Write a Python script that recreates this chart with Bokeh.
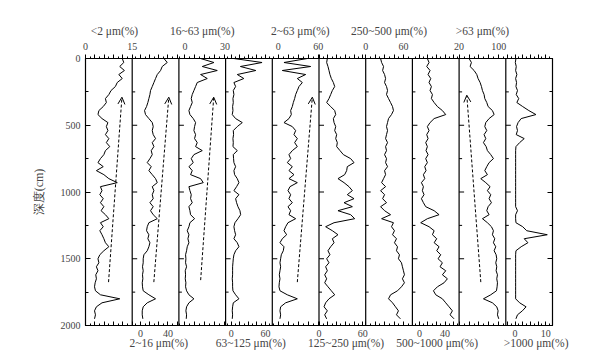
from bokeh.plotting import figure
from bokeh.models import (Range1d, LinearAxis, FixedTicker, CustomJSTickFormatter,
                          Span, Arrow, OpenHead)
from bokeh.embed import file_html
from bokeh.resources import INLINE

# ---------------- data ----------------
depth = [0, 30, 60, 90, 120, 150, 180, 210, 240, 270,
         300, 330, 360, 390, 420, 450, 480, 510, 540, 570,
         600, 630, 660, 690, 720, 750, 780, 810, 840, 870,
         900, 930, 960, 990, 1020, 1050, 1080, 1110, 1140, 1170,
         1200, 1230, 1260, 1290, 1320, 1350, 1380, 1410, 1440, 1470,
         1500, 1530, 1560, 1590, 1620, 1650, 1680, 1710, 1740, 1770,
         1800, 1830, 1860, 1890, 1920, 1950]

clay = [11.8, 12.3, 11.0, 12.5, 10.7, 11.8, 10.2, 9.6, 8.2, 7.5,
        6.4, 6.7, 5.7, 4.3, 4.0, 5.3, 7.2, 6.7, 7.2, 6.4,
        7.5, 6.7, 7.8, 6.4, 5.9, 4.8, 4.0, 5.7, 3.5, 5.9,
        7.5, 10.2, 4.8, 5.3, 4.6, 5.7, 4.8, 5.9, 5.0, 6.4,
        7.5, 4.8, 5.7, 4.6, 5.3, 5.9, 6.4, 7.5, 5.9, 4.6,
        4.0, 4.3, 3.5, 4.0, 3.3, 3.5, 3.1, 2.9, 3.2, 4.8,
        11.0, 5.3, 3.5, 2.9, 3.2, 2.9]

fine_silt = [34.2, 39.0, 31.7, 29.3, 24.5, 22.0, 19.6, 17.2, 14.7, 13.8,
             12.3, 10.8, 8.9, 6.0, 7.4, 12.3, 17.2, 18.6, 17.2, 18.6,
             22.0, 17.2, 19.6, 15.7, 17.2, 13.8, 9.9, 15.7, 12.3, 17.2,
             22.0, 24.5, 17.2, 19.6, 17.2, 18.6, 13.8, 18.6, 14.7, 18.6,
             24.5, 12.3, 9.9, 8.9, 12.3, 10.8, 13.8, 12.3, 9.9, 5.0,
             4.0, 4.0, 3.0, 4.0, 3.0, 3.5, 2.6, 3.0, 4.0, 12.3,
             22.0, 9.9, 4.0, 2.6, 2.6, 3.5]

coarse_silt = [11.75, 21.75, 13.0, 24.25, 11.75, 16.75, 9.25, 8.0, 6.75, 5.5,
               4.75, 5.5, 4.25, 3.0, 3.75, 6.25, 8.0, 7.25, 6.75, 8.0,
               7.25, 9.25, 8.0, 13.0, 6.75, 4.75, 6.25, 3.0, 5.5, 4.25,
               11.75, 13.75, 3.0, 3.75, 4.75, 4.25, 5.5, 3.0, 3.75, 4.25,
               7.25, 3.75, 3.0, 1.75, 3.0, 2.25, 3.0, 1.75, 1.25, 0.5,
               0.75, 0.5, 1.25, 0.25, 0.5, 0.25, 0.75, 0.5, 1.25, 3.0,
               6.75, 3.0, 1.25, 0.75, 1.25, 1.0]

vf_sand = [4.6, 54.0, 16.0, 43.0, 10.5, 22.0, 4.6, 7.6, 3.5, 4.6,
           2.9, 3.5, 2.3, 2.9, 1.7, 7.6, 19.3, 10.5, 3.5, 4.0,
           2.9, 3.5, 2.9, 10.5, 3.5, 4.0, 4.6, 7.6, 4.6, 5.8,
           10.5, 13.4, 9.3, 4.6, 13.4, 7.6, 9.3, 11.7, 15.2, 16.4,
           11.7, 6.4, 4.6, 5.8, 7.6, 4.6, 10.5, 13.4, 7.6, 4.6,
           3.5, 2.9, 2.3, 2.3, 2.3, 1.7, 2.3, 2.3, 2.9, 7.6,
           13.4, 3.5, 2.3, 1.7, 2.3, 1.7]

mud = [43.5, 8.5, 48.5, 6.0, 41.0, 28.5, 36.0, 31.0, 28.5, 26.0,
       24.5, 22.5, 21.0, 18.5, 19.5, 16.0, 8.5, 21.0, 26.0, 23.5,
       28.5, 24.5, 28.5, 21.0, 16.0, 18.5, 13.5, 21.0, 16.0, 23.5,
       16.0, 28.5, 17.5, 14.5, 18.5, 16.0, 21.0, 14.5, 18.5, 16.0,
       26.0, 14.5, 11.0, 8.5, 12.5, 6.0, 2.5, 8.5, 7.5, 4.5,
       3.5, 2.5, 3.5, 2.5, 1.5, 2.5, 1.5, 1.0, 2.5, 13.5,
       28.5, 11.0, 3.5, 2.5, 3.5, 2.5]

f_sand = [11.4, 10.5, 12.3, 13.7, 15.0, 16.9, 19.7, 21.5, 18.3, 16.0,
          13.7, 10.5, 16.0, 21.5, 22.9, 19.7, 20.6, 22.9, 21.5, 24.2,
          22.9, 25.1, 24.2, 28.8, 33.4, 43.4, 48.0, 38.8, 37.9, 35.2,
          26.0, 34.3, 41.1, 45.7, 38.8, 48.0, 34.3, 45.7, 26.0, 43.4,
          48.9, 20.6, 9.1, 18.3, 26.0, 18.3, 20.6, 16.0, 12.3, 15.0,
          10.5, 13.7, 9.1, 11.4, 7.8, 10.5, 7.8, 12.3, 16.9, 21.5,
          13.7, 9.1, 6.9, 11.4, 7.8, 10.5]

m_sand = [23.6, 25.2, 28.3, 26.8, 29.9, 31.5, 29.9, 33.0, 34.6, 33.0,
          36.2, 39.4, 42.5, 44.0, 40.9, 36.2, 34.6, 33.0, 34.6, 33.0,
          31.5, 34.6, 31.5, 33.0, 29.9, 33.0, 31.5, 34.6, 29.9, 31.5,
          28.3, 25.2, 31.5, 23.6, 29.9, 26.8, 33.0, 23.6, 29.9, 39.4,
          25.2, 44.0, 40.9, 45.6, 42.5, 48.8, 45.6, 50.4, 48.8, 53.5,
          51.9, 56.7, 58.2, 59.8, 61.4, 58.2, 61.4, 56.7, 50.4, 39.4,
          36.2, 42.5, 47.2, 51.9, 48.8, 55.0]

c_sand = [12.4, 15.0, 11.4, 16.6, 13.5, 17.7, 15.0, 18.7, 16.6, 20.3,
          18.7, 23.0, 28.1, 35.9, 41.1, 23.0, 16.6, 12.4, 15.0, 11.4,
          13.5, 9.8, 12.4, 10.3, 13.5, 9.8, 12.4, 8.3, 10.3, 6.2,
          8.3, 3.1, 6.2, 4.6, 7.2, 3.1, 6.2, 9.8, 23.0, 30.7,
          12.4, 2.0, 15.0, 23.0, 20.3, 27.0, 23.0, 30.7, 27.0, 33.3,
          29.1, 35.9, 32.2, 41.1, 35.9, 43.7, 38.5, 28.1, 21.9, 25.5,
          35.9, 41.1, 46.3, 51.5, 47.9, 54.1]

sand = [40.1, 44.8, 42.1, 50.2, 55.6, 58.2, 62.3, 65.0, 67.0, 70.3,
        71.7, 75.7, 78.4, 87.1, 90.5, 80.4, 73.7, 71.7, 75.7, 70.3,
        73.7, 69.0, 74.4, 77.0, 83.7, 89.1, 80.4, 75.7, 71.7, 77.0,
        63.6, 73.7, 82.4, 77.0, 83.7, 80.4, 85.1, 78.4, 75.7, 80.4,
        67.0, 77.0, 85.1, 89.1, 87.1, 91.8, 89.1, 93.8, 90.5, 94.5,
        95.8, 93.8, 95.8, 94.5, 97.2, 95.8, 97.2, 96.5, 95.2, 83.7,
        69.0, 87.1, 95.8, 98.5, 97.2, 99.8]

gravel = [0.3, 0.1, 0.4, 0.2, 0.6, 0.2, 0.5, 0.3, 0.8, 0.4,
          1.2, 0.6, 2.5, 4.5, 6.8, 2.0, 1.0, 0.5, 0.8, 0.4,
          3.0, 1.5, 0.3, 0.2, 0.2, 0.2, 0.2, 0.2, 0.2, 0.2,
          0.2, 0.2, 0.2, 0.2, 0.2, 0.2, 0.2, 0.2, 0.8, 0.2,
          0.2, 0.3, 2.5, 3.8, 10.5, 3.0, 4.2, 2.0, 0.3, 0.2,
          0.2, 0.2, 0.2, 0.2, 0.2, 0.2, 0.2, 0.2, 0.2, 0.2,
          0.2, 1.5, 3.6, 2.4, 0.8, 0.3]

titles = ["<2 μm(%)", "2~16 μm(%)", "16~63 μm(%)", "63~125 μm(%)", "2~63 μm(%)",
          "125~250 μm(%)", "250~500 μm(%)", "500~1000 μm(%)", ">63 μm(%)", ">1000 μm(%)"]
x_lo = [0, -12, -4.5, -10, -9, 0, 0, -11, 20, -3]
x_hi = [15, 56, 30.5, 72, 61, 64, 74, 62, 114, 12.2]
tick_step = [3, 40 / 3, 7.5, 15, 15, 12, 15, 40 / 3, 20, 2.5]
tick_labels = [[0, 15], [0, 40], [0, 30], [0, 60], [0, 60],
               [0, 60], [0, 60], [0, 40], [20, 100], [0, 10]]
label_top = [True, False, True, False, True, False, True, False, True, False]
title_center = [0.62, 1.57, 2.5, 3.54, 4.6, 5.58, 6.5, 7.53, 8.5, 9.65]

arrow_panel = [0, 1, 2, 4, 8]
arrow_x0 = [7.4, 19.5, 11.8, 28.5, 63.7]
arrow_y0 = [1675, 1675, 1660, 1675, 1675]
arrow_x1 = [11.7, 41.3, 21.6, 51.0, 35.5]
arrow_y1 = [290, 290, 290, 290, 275]

depth_major = [0, 500, 1000, 1500, 2000]
depth_minor = [250, 750, 1250, 1750]

series = [clay, fine_silt, coarse_silt, vf_sand, mud, f_sand, m_sand, c_sand, sand, gravel]
NP = len(series)

SERIF = "Liberation Serif"
FRAME_W = 467

p = figure(width=594, height=358, x_range=Range1d(0, NP), y_range=Range1d(2000, 0),
           output_backend="svg", toolbar_location=None,
           min_border_left=85, min_border_right=42, min_border_top=58, min_border_bottom=33)
p.grid.visible = False
p.outline_line_color = "black"
p.outline_line_width = 1.2
p.background_fill_color = "white"
p.border_fill_color = "white"


def gpos(i, v):
    return round(i + (v - x_lo[i]) / (x_hi[i] - x_lo[i]), 6)


major_pos, minor_pos = [], []
top_pos, top_txt, bot_pos, bot_txt = [], [], [], []
ttl_top_pos, ttl_top_txt, ttl_bot_pos, ttl_bot_txt = [], [], [], []
for i in range(NP):
    s = tick_step[i]
    k0 = int(x_lo[i] // s) - 1
    k1 = int(x_hi[i] // s) + 2
    for k in range(k0, k1):
        v = k * s
        if x_lo[i] - 1e-9 <= v <= x_hi[i] + 1e-9:
            major_pos.append(gpos(i, v))
        vm = v + s / 2
        if x_lo[i] - 1e-9 <= vm <= x_hi[i] + 1e-9:
            minor_pos.append(gpos(i, vm))
    for v in tick_labels[i]:
        if label_top[i]:
            top_pos.append(gpos(i, v)); top_txt.append(str(v))
        else:
            bot_pos.append(gpos(i, v)); bot_txt.append(str(v))
    if label_top[i]:
        ttl_top_pos.append(title_center[i]); ttl_top_txt.append(titles[i])
    else:
        ttl_bot_pos.append(title_center[i]); ttl_bot_txt.append(titles[i])

fmt_code = """
for (let i = 0; i < pos.length; i++) {
  if (Math.abs(tick - pos[i]) < 1e-4) { return labs[i]; }
}
return '';
"""


def style_numbers(ax, top):
    ax.major_tick_in = 0 if top else 4
    ax.major_tick_out = 4 if top else 0
    ax.minor_tick_in = 0 if top else 2
    ax.minor_tick_out = 2 if top else 0
    ax.major_label_standoff = 5 if top else 4
    ax.major_label_text_font = SERIF
    ax.major_label_text_font_size = "10px"
    ax.axis_line_color = "black"


def title_axis(pos, txt, standoff):
    ax = LinearAxis(ticker=FixedTicker(ticks=pos, minor_ticks=[]),
                    formatter=CustomJSTickFormatter(args=dict(pos=pos, labs=txt), code=fmt_code))
    ax.major_tick_in = 0
    ax.major_tick_out = 0
    ax.minor_tick_in = 0
    ax.minor_tick_out = 0
    ax.axis_line_color = None
    ax.major_tick_line_color = None
    ax.major_label_standoff = standoff
    ax.major_label_text_font = SERIF
    ax.major_label_text_font_size = "11.5px"
    return ax


# bottom numbers axis
bx = p.xaxis[0]
bx.ticker = FixedTicker(ticks=major_pos, minor_ticks=minor_pos)
bx.formatter = CustomJSTickFormatter(args=dict(pos=bot_pos, labs=bot_txt), code=fmt_code)
style_numbers(bx, False)

# top numbers axis
tx = LinearAxis(ticker=FixedTicker(ticks=major_pos, minor_ticks=minor_pos),
                formatter=CustomJSTickFormatter(args=dict(pos=top_pos, labs=top_txt), code=fmt_code))
style_numbers(tx, True)
p.add_layout(tx, "above")

# panel titles, as tick labels of label-only axes stacked outside the number axes
p.add_layout(title_axis(ttl_top_pos, ttl_top_txt, 3), "above")
p.add_layout(title_axis(ttl_bot_pos, ttl_bot_txt, -3), "below")

# left depth axis
ly = p.yaxis[0]
ly.ticker = FixedTicker(ticks=depth_major, minor_ticks=depth_minor)
ly.major_tick_in = 5
ly.major_tick_out = 0
ly.minor_tick_in = 3
ly.minor_tick_out = 0
ly.major_label_text_font = SERIF
ly.major_label_text_font_size = "10px"
ly.major_label_standoff = 5
ly.axis_label = "深度(cm)"
ly.axis_label_text_font = SERIF
ly.axis_label_text_font_style = "normal"
ly.axis_label_text_font_size = "12px"
ly.axis_label_standoff = 12

# right axis: ticks only
ry = LinearAxis(ticker=FixedTicker(ticks=depth_major, minor_ticks=depth_minor),
                formatter=CustomJSTickFormatter(code="return '';"))
ry.major_tick_in = 5
ry.major_tick_out = 0
ry.minor_tick_in = 3
ry.minor_tick_out = 0
p.add_layout(ry, "right")

# panel dividers and their inward ticks
panel_px = FRAME_W / NP
seg_x0, seg_x1, seg_y = [], [], []
for i in range(1, NP):
    p.add_layout(Span(location=i, dimension="height", line_color="black", line_width=1.2))
    for d in depth_major[1:-1]:
        seg_x0.append(i); seg_x1.append(i + 5 / panel_px); seg_y.append(d)
    for d in depth_minor:
        seg_x0.append(i); seg_x1.append(i + 3 / panel_px); seg_y.append(d)
p.segment(x0=seg_x0, y0=seg_y, x1=seg_x1, y1=seg_y, line_color="black", line_width=1)

# curves, each panel with its own x scale
for i in range(NP):
    w = x_hi[i] - x_lo[i]
    name = f"p{i}"
    p.extra_x_ranges[name] = Range1d(x_lo[i] - i * w, x_lo[i] + (NP - i) * w)
    p.line(x=series[i], y=depth, x_range_name=name, line_color="black", line_width=1)

# dashed trend arrows
for k, i in enumerate(arrow_panel):
    p.add_layout(Arrow(end=OpenHead(size=7, line_width=1, line_color="black"),
                       x_start=arrow_x0[k], y_start=arrow_y0[k],
                       x_end=arrow_x1[k], y_end=arrow_y1[k],
                       x_range_name=f"p{i}", line_dash="3 2", line_width=1,
                       line_color="black"))

open("out.html", "w").write(file_html(p, INLINE))
